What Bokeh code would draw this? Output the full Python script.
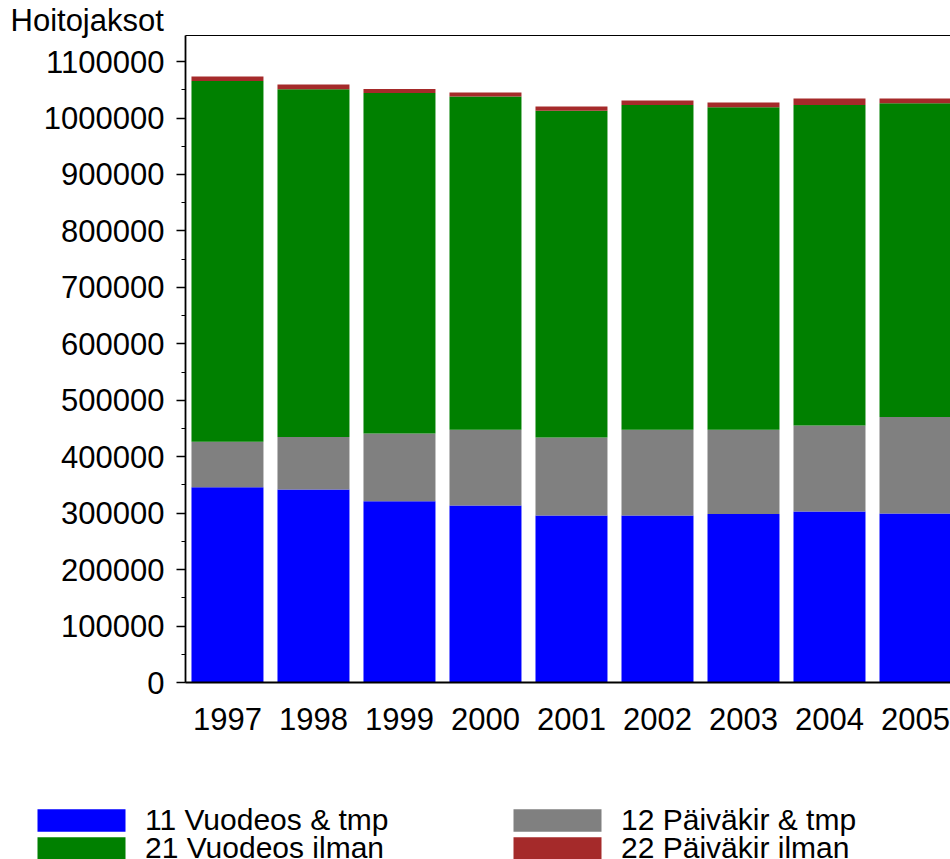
import numpy as np
from bokeh.plotting import figure
from bokeh.models import (Range1d, FixedTicker, SingleIntervalTicker, LinearAxis,
                          BasicTickFormatter, Legend, LegendItem, Title, ColumnDataSource)
from bokeh.embed import file_html
from bokeh.resources import INLINE

years = ["1997", "1998", "1999", "2000", "2001", "2002", "2003", "2004", "2005"]
vuodeos_tmp = [346000, 341900, 321200, 313500, 295800, 295800, 298600, 302900, 299300]
paivakir_tmp = [80400, 92800, 120100, 134200, 138400, 151900, 149100, 152600, 170900]
vuodeos_ilman = [639400, 616200, 603200, 590300, 578900, 575500, 571300, 567700, 555900]
paivakir_ilman = [7700, 8400, 7100, 7100, 7100, 7700, 8300, 11200, 8300]
series_names = ["11 Vuodeos & tmp", "12 Päiväkir & tmp", "21 Vuodeos ilman", "22 Päiväkir ilman"]
colors = ["#0000FF", "#808080", "#008000", "#A52A2A"]
y_ticks_step = 100000

FONT = "Liberation Sans"
idx = list(range(len(years)))
source = ColumnDataSource(dict(x=idx, s1=vuodeos_tmp, s2=paivakir_tmp, s3=vuodeos_ilman,
                               s4=paivakir_ilman))

p = figure(width=950, height=790, output_backend="svg", toolbar_location=None,
           x_range=Range1d(-0.488, 8.407), y_range=Range1d(0, 1146200),
           min_border_left=185, min_border_right=0, min_border_top=35, min_border_bottom=108)
p.outline_line_color = None
p.grid.visible = False
p.background_fill_color = "white"

renderers = p.vbar_stack(["s1", "s2", "s3", "s4"], x="x", width=0.837, color=colors,
                         line_color=None, source=source)

# y axis
ya = p.yaxis[0]
ya.ticker = SingleIntervalTicker(interval=y_ticks_step, num_minor_ticks=2)
ya.formatter = BasicTickFormatter(use_scientific=False)
ya.major_label_text_font = FONT
ya.major_label_text_font_size = "31px"
ya.major_label_text_color = "black"
ya.major_tick_out = 9
ya.major_tick_in = 0
ya.minor_tick_out = 4
ya.minor_tick_in = 0
ya.axis_line_width = 1.8
ya.major_tick_line_width = 1.5
ya.minor_tick_line_width = 1.2
ya.major_label_standoff = 12

# x axis
xa = p.xaxis[0]
xa.ticker = FixedTicker(ticks=idx)
xa.major_label_overrides = {i: y for i, y in zip(idx, years)}
xa.major_tick_line_color = None
xa.minor_tick_line_color = None
xa.major_label_text_font = FONT
xa.major_label_text_font_size = "31px"
xa.major_label_text_color = "black"
xa.major_label_standoff = 19
xa.axis_line_width = 1.8

# top border line
top = LinearAxis(ticker=FixedTicker(ticks=[]), major_tick_line_color=None,
                 minor_tick_line_color=None, major_label_text_font_size="0px",
                 axis_line_width=1.2)
p.add_layout(top, "above")

# y axis title at top-left
p.add_layout(Title(text="Hoitojaksot", align="left", offset=-175, text_font=FONT,
                   text_font_size="31px", text_font_style="normal", text_color="black",
                   standoff=-4), "above")

# legend strip: swatch renderers hold no drawable bars (NaN), only the legend shows
pl = figure(width=950, height=69, output_backend="svg", toolbar_location=None,
            x_range=Range1d(0, 1), y_range=Range1d(0, 1),
            x_axis_type=None, y_axis_type=None,
            min_border_left=0, min_border_right=0, min_border_top=0, min_border_bottom=0)
pl.outline_line_color = None
pl.grid.visible = False
swatch_src = ColumnDataSource(dict(x=np.array([np.nan]), top=np.array([np.nan])))
lr = [pl.vbar(x="x", top="top", width=0.5, color=c, line_color=None, source=swatch_src)
      for c in colors]

def make_legend(items, loc):
    return Legend(items=items, orientation="horizontal", location=loc,
                  glyph_width=110, glyph_height=28, label_standoff=9, label_width=348,
                  spacing=9, padding=0, margin=0, border_line_color=None,
                  background_fill_alpha=0, label_text_font=FONT,
                  label_text_font_size="30px", label_text_color="black")

leg1 = make_legend([LegendItem(label=series_names[0], renderers=[lr[0]]),
                    LegendItem(label=series_names[1], renderers=[lr[1]])], (26, 22))
leg2 = make_legend([LegendItem(label=series_names[2], renderers=[lr[2]]),
                    LegendItem(label=series_names[3], renderers=[lr[3]])], (26, -6))
pl.add_layout(leg1, "center")
pl.add_layout(leg2, "center")

open("out.html", "w").write(file_html([p, pl], INLINE))
